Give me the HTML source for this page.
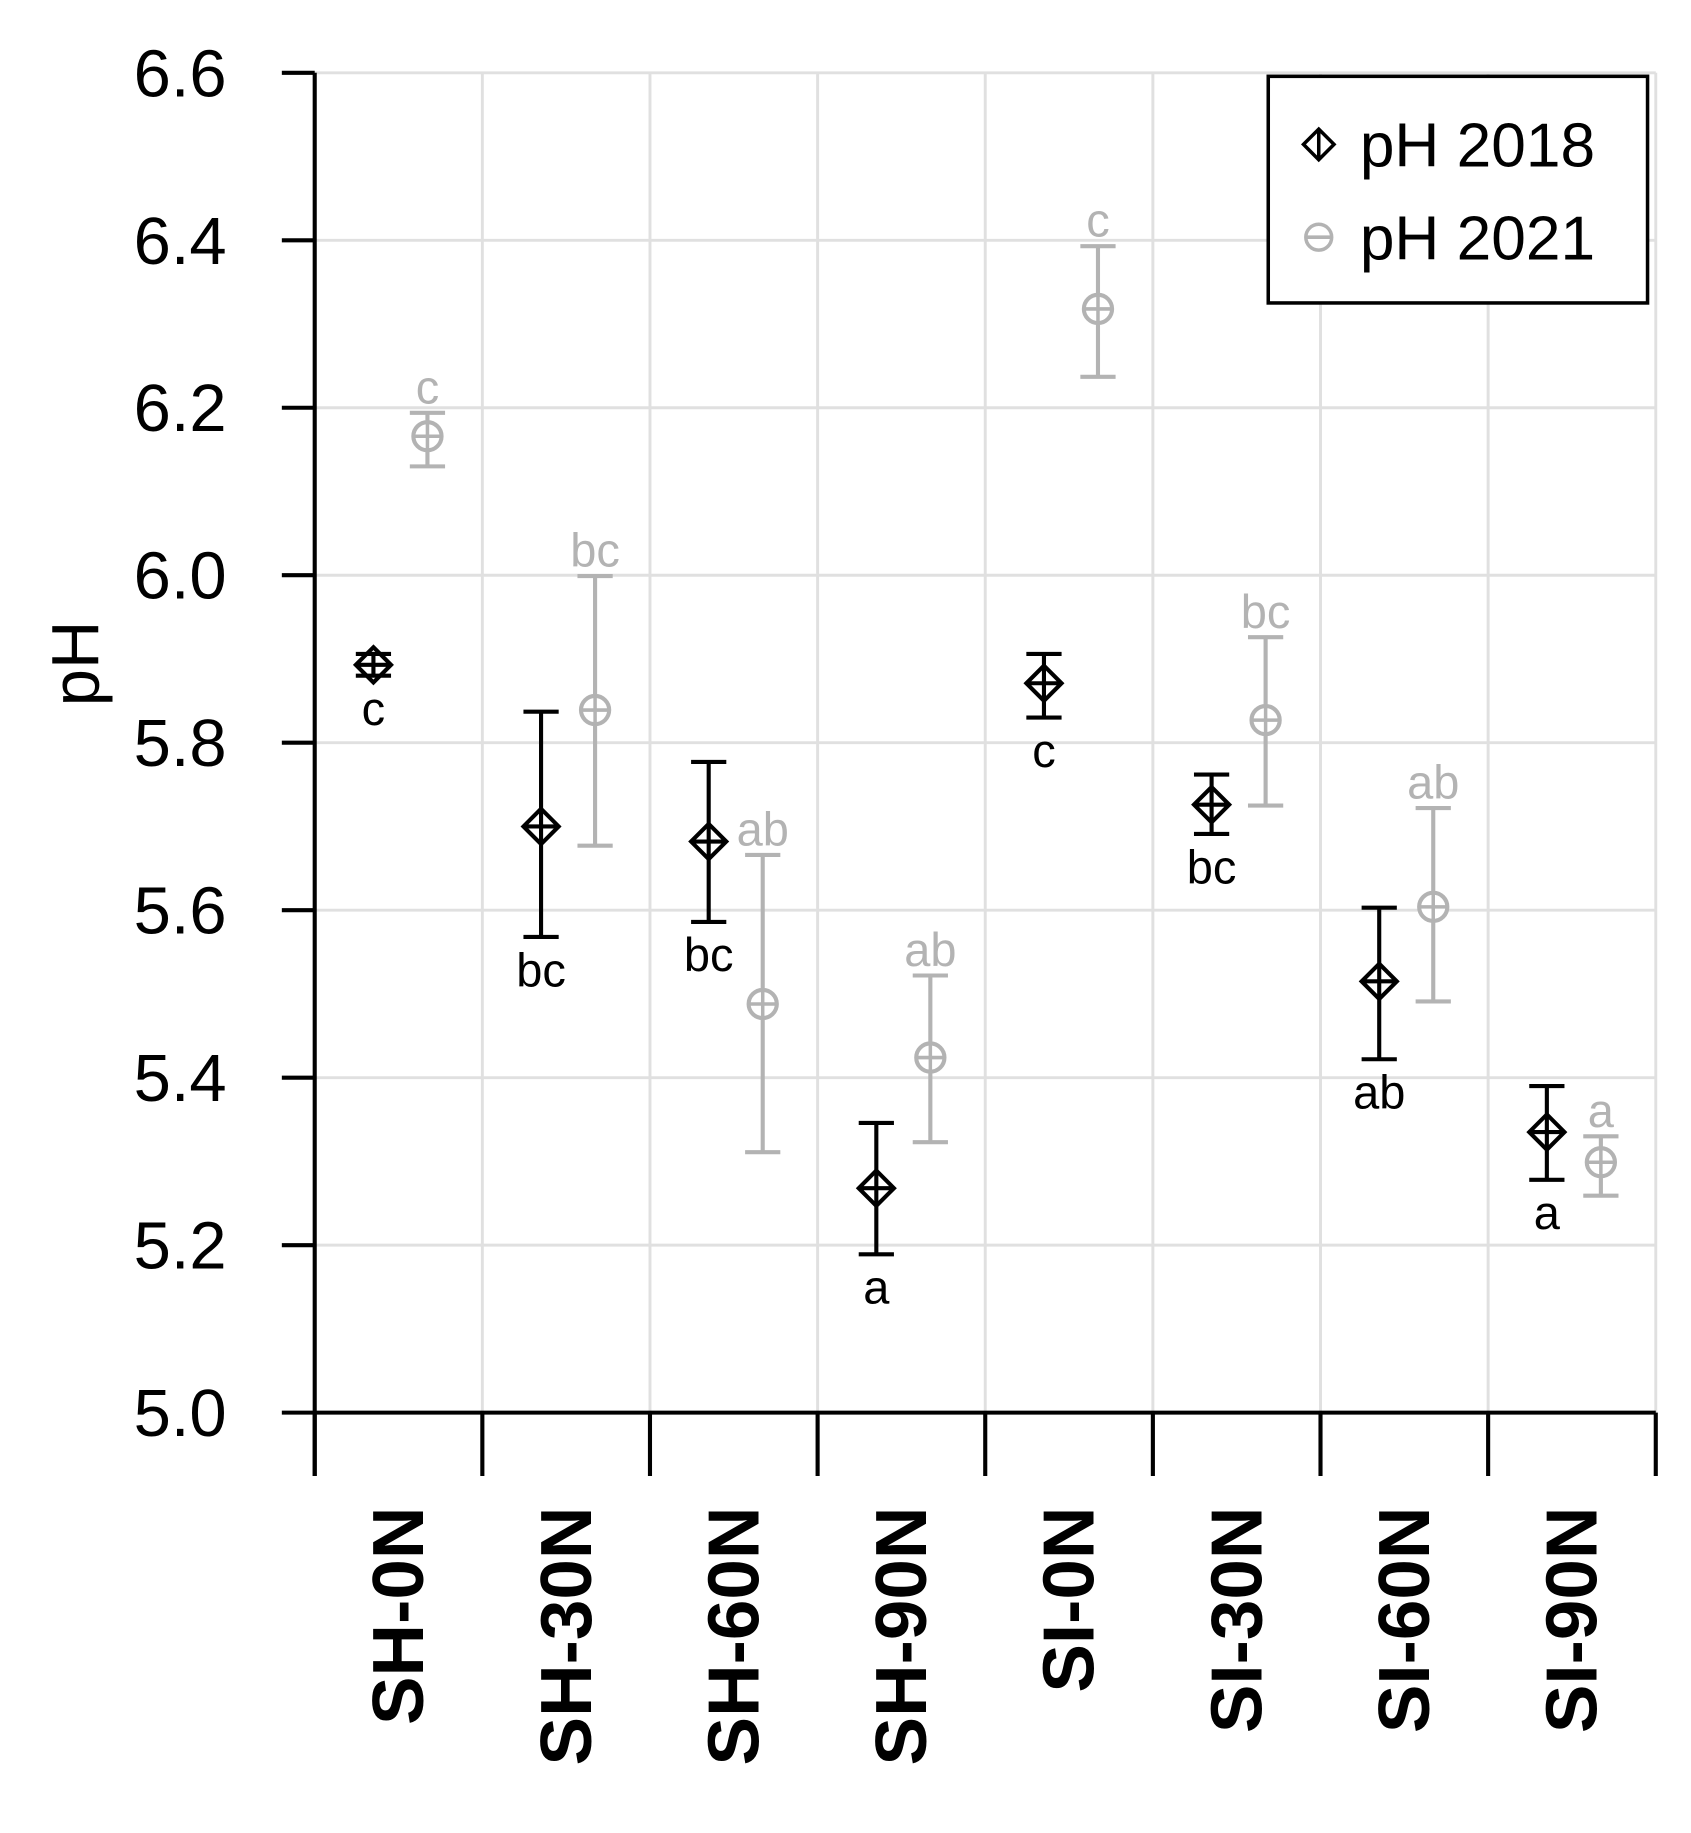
<!DOCTYPE html>
<html><head><meta charset="utf-8"><style>
html,body{margin:0;padding:0;background:#fff;}
svg{display:block;font-family:"Liberation Sans",Arial,sans-serif;}
</style></head><body>
<svg id="chart" width="1691" height="1833" viewBox="0 0 1440 1561" preserveAspectRatio="none" xmlns="http://www.w3.org/2000/svg">
<g id="grid"></g>
<g id="axes"></g>
<g id="series"></g>
<g id="legend">
  <rect x="1080" y="65" width="323" height="193" fill="#fff" stroke="#000" stroke-width="3"/>
  <g>
    <path d="M1123 110 L1136 123 L1123 136 L1110 123 Z M1123 110 L1123 136" fill="none" stroke="#000" stroke-width="3"/>
    <text x="1158" y="142" font-size="53" fill="#000">pH 2018</text>
  </g>
  <g>
    <circle cx="1123" cy="202" r="11" fill="none" stroke="#b3b3b3" stroke-width="3"/>
    <line x1="1112" y1="202" x2="1134" y2="202" stroke="#b3b3b3" stroke-width="3"/>
    <text x="1158" y="221" font-size="53" fill="#000">pH 2021</text>
  </g>
</g>
</svg>
<script>
const categories = ["SH-0N","SH-30N","SH-60N","SH-90N","SI-0N","SI-30N","SI-60N","SI-90N"];
const mean2018 = [5.893,5.70,5.682,5.268,5.871,5.726,5.515,5.335];
const lo2018   = [5.880,5.568,5.586,5.189,5.830,5.691,5.422,5.278];
const hi2018   = [5.906,5.837,5.777,5.346,5.906,5.762,5.603,5.390];
const let2018  = ["c","bc","bc","a","c","bc","ab","a"];
const mean2021 = [6.166,5.839,5.488,5.424,6.318,5.827,5.604,5.299];
const lo2021   = [6.130,5.677,5.311,5.323,6.237,5.725,5.491,5.259];
const hi2021   = [6.194,5.999,5.666,5.522,6.393,5.926,5.722,5.330];
const let2021  = ["c","bc","ab","ab","c","bc","ab","a"];
const yTicks = [5.0,5.2,5.4,5.6,5.8,6.0,6.2,6.4,6.6];

const NS="http://www.w3.org/2000/svg";
const X0=268,X1=1410,Y0=1203,Y1=62,VMIN=5.0,VMAX=6.6;
const bw=(X1-X0)/categories.length;
function y(v){return Y0-(v-VMIN)/(VMAX-VMIN)*(Y0-Y1);}
function xb(i){return X0+i*bw;}
function mk(tag,attrs,parent){const e=document.createElementNS(NS,tag);for(const k in attrs)e.setAttribute(k,attrs[k]);parent.appendChild(e);return e;}
const grid=document.getElementById('grid'),axes=document.getElementById('axes'),ser=document.getElementById('series');

yTicks.forEach(t=>{
  const g=mk('line',{x1:X0,x2:X1,y1:y(t),y2:y(t),stroke:'#e0e0e0','stroke-width':2.5},grid);
  
  
  const tk=mk('line',{x1:240,x2:X0,y1:y(t),y2:y(t),stroke:'#000','stroke-width':3.5},axes);
  
  
  const tx=mk('text',{x:193,y:y(t)+20,'font-size':57,'text-anchor':'end',fill:'#000'},axes);
  tx.textContent=t.toFixed(1);
  
  
});
for(let i=1;i<=categories.length;i++){
  const g=mk('line',{x1:xb(i),x2:xb(i),y1:Y1,y2:Y0,stroke:'#e0e0e0','stroke-width':2.5},grid);
  
  
}
for(let i=0;i<=categories.length;i++){
  const tk=mk('line',{x1:xb(i),x2:xb(i),y1:Y0,y2:1257,stroke:'#000','stroke-width':3.5},axes);
  
  
}
const ya=mk('line',{x1:X0,x2:X0,y1:Y1,y2:1257,stroke:'#000','stroke-width':3.5},axes);


const xa=mk('line',{x1:X0,x2:X1,y1:Y0,y2:Y0,stroke:'#000','stroke-width':3.5},axes);


const yt=mk('text',{x:0,y:0,'font-size':57,'text-anchor':'middle',transform:'translate(84,565) rotate(-90)',fill:'#000'},axes);
yt.textContent='pH';


categories.forEach((c,i)=>{
  const cx=xb(i)+bw/2+21;
  const t=mk('text',{x:0,y:0,'font-size':62,'font-weight':'bold','text-anchor':'end',transform:`translate(${cx},1283) rotate(-90)`,fill:'#000'},axes);
  t.textContent=c;
  
  
});

function errbar(cx,m,lo,hi,col,parent){
  mk('line',{x1:cx,x2:cx,y1:y(lo),y2:y(hi),stroke:col,'stroke-width':3.5},parent);
  mk('line',{x1:cx-15,x2:cx+15,y1:y(lo),y2:y(lo),stroke:col,'stroke-width':3.5},parent);
  mk('line',{x1:cx-15,x2:cx+15,y1:y(hi),y2:y(hi),stroke:col,'stroke-width':3.5},parent);
}
categories.forEach((c,i)=>{
  const g1=mk('g',{},ser);
  
  
  const cx=xb(i)+50, cy=y(mean2018[i]);
  errbar(cx,mean2018[i],lo2018[i],hi2018[i],'#000',g1);
  mk('path',{d:`M${cx} ${cy-15} L${cx+15} ${cy} L${cx} ${cy+15} L${cx-15} ${cy} Z M${cx-15} ${cy} L${cx+15} ${cy}`,fill:'none',stroke:'#000','stroke-width':3.5},g1);
  const l1=mk('text',{x:cx,y:y(lo2018[i])+42,'font-size':40,'text-anchor':'middle',fill:'#000'},g1);
  l1.textContent=let2018[i];

  const g2=mk('g',{},ser);
  
  
  const cx2=xb(i)+96, cy2=y(mean2021[i]);
  errbar(cx2,mean2021[i],lo2021[i],hi2021[i],'#b3b3b3',g2);
  mk('circle',{cx:cx2,cy:cy2,r:12,fill:'#fff',stroke:'#b3b3b3','stroke-width':3.5},g2);
  mk('line',{x1:cx2-12,x2:cx2+12,y1:cy2,y2:cy2,stroke:'#b3b3b3','stroke-width':3},g2);
  mk('line',{x1:cx2,x2:cx2,y1:cy2-12,y2:cy2+12,stroke:'#b3b3b3','stroke-width':3},g2);
  const l2=mk('text',{x:cx2,y:y(hi2021[i])-8,'font-size':40,'text-anchor':'middle',fill:'#b3b3b3'},g2);
  l2.textContent=let2021[i];
});
</script>
</body></html>
